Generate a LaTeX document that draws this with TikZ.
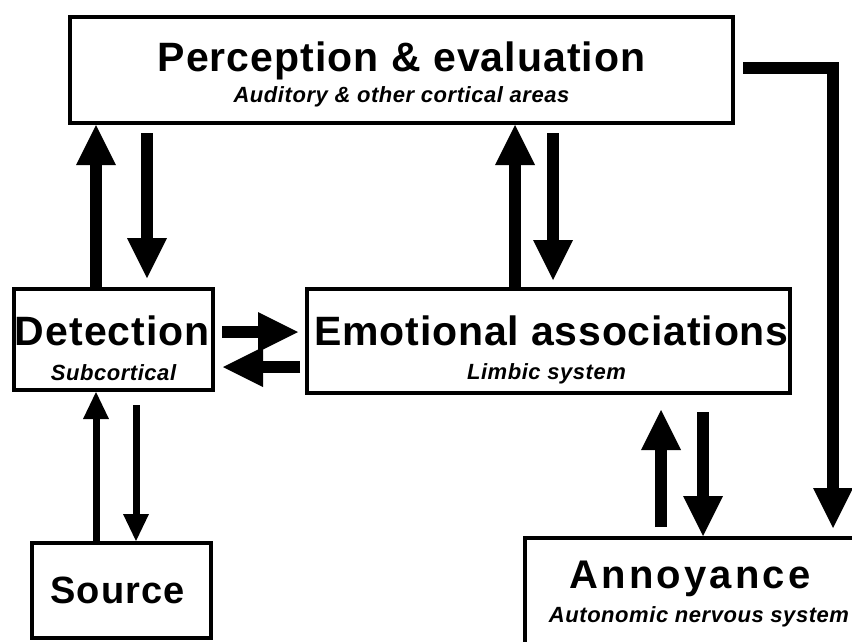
\documentclass[tikz,border=0pt]{standalone}
\usepackage{fontspec}
\setmainfont{Liberation Sans}
\usetikzlibrary{arrows.meta}

\begin{document}
\begin{tikzpicture}[x=1pt, y=-1pt]
        \tikzstyle{block} = [rectangle, draw, line width=4pt, inner sep=0pt]
        \tikzstyle{subheading} = [anchor=base, inner sep=0pt,
            font=\fontsize{22}{22}\selectfont\bfseries\itshape\addfontfeatures{LetterSpace=2.5}]
        \tikzstyle{bigarrow} = [draw, line width=12pt,
            -{Triangle[width=40pt, length=40pt, line width=0pt]}]
        \tikzstyle{thinarrow} = [draw, line width=7pt,
            -{Triangle[width=26pt, length=27pt, line width=0pt]}]
        \tikzset{heading/.style 2 args={anchor=base, inner sep=0pt,
            font=\fontsize{#1}{#1}\selectfont\bfseries\addfontfeatures{LetterSpace=#2}}}

        \path[use as bounding box, clip] (0,0) rectangle (852,641);

        % boxes
        \node [block, minimum width=663pt, minimum height=106pt] (perc) at (401.5,70) {};
        \node [block, minimum width=199pt, minimum height=101pt] (det) at (113.5,339.5) {};
        \node [block, minimum width=483pt, minimum height=104pt] (emo) at (548.5,341) {};
        \node [block, minimum width=179pt, minimum height=95pt] (src) at (121.5,590.5) {};
        \node [block, minimum width=340pt, minimum height=162pt] (ann) at (695,619) {};

        % texts
        \node [heading={41}{2.5}] (perc-title) at ([yshift=-56pt]perc.north) {Perception \& evaluation};
        \node [subheading] (perc-sub) at ([yshift=-87pt]perc.north) {Auditory \& other cortical areas};
        \node [heading={41}{2.5}] (det-title) at ([xshift=-1pt, yshift=-58pt]det.north) {Detection};
        \node [subheading] (det-sub) at ([yshift=-93pt]det.north) {Subcortical};
        \node [heading={41}{2}] (emo-title) at ([xshift=3pt, yshift=-58pt]emo.north) {Emotional associations};
        \node [subheading] (emo-sub) at ([xshift=-2pt, yshift=-92pt]emo.north) {Limbic system};
        \node [heading={38}{3}] (src-title) at ([xshift=-4pt, yshift=-62pt]src.north) {Source};
        \node [heading={40}{8}] (ann-title) at ([xshift=-5pt, yshift=-52pt]ann.north) {Annoyance};
        \node [subheading] (ann-sub) at ([xshift=4pt, yshift=-86pt]ann.north) {Autonomic nervous system};

        % connectors
        \path [bigarrow] ([xshift=-17.5pt]det.north) -- ([xshift=-17.5pt]det.north |- perc.south);
        \path [bigarrow, shorten <=8pt, shorten >=9pt] ([xshift=33.5pt]det.north |- perc.south) -- ([xshift=33.5pt]det.north);
        \path [bigarrow] ([xshift=-33.5pt]emo.north) -- ([xshift=-33.5pt]emo.north |- perc.south);
        \path [bigarrow, shorten <=8pt, shorten >=7pt] ([xshift=4.5pt]emo.north |- perc.south) -- ([xshift=4.5pt]emo.north);
        \path [bigarrow, shorten <=7pt, shorten >=7pt] ([yshift=7.5pt]det.east) -- ([yshift=7.5pt]det.east -| emo.west);
        \path [bigarrow, shorten <=5pt, shorten >=8pt] ([yshift=-27.5pt]det.east -| emo.west) -- ([yshift=-27.5pt]det.east);
        \path [thinarrow] ([xshift=-25.5pt]src.north) -- ([xshift=-25.5pt]src.north |- det.south);
        \path [thinarrow, shorten <=13pt] ([xshift=14.5pt]src.north |- det.south) -- ([xshift=14.5pt]src.north);
        \path [bigarrow, shorten <=9pt, shorten >=15pt] ([xshift=-34pt]ann.north) -- ([xshift=-34pt]ann.north |- emo.south);
        \path [bigarrow, shorten <=17pt] ([xshift=8pt]ann.north |- emo.south) -- ([xshift=8pt]ann.north);
        \path [bigarrow, shorten <=8pt, shorten >=8pt] ([yshift=2pt]perc.east) -| ([xshift=138pt]ann.north);
\end{tikzpicture}
\end{document}
